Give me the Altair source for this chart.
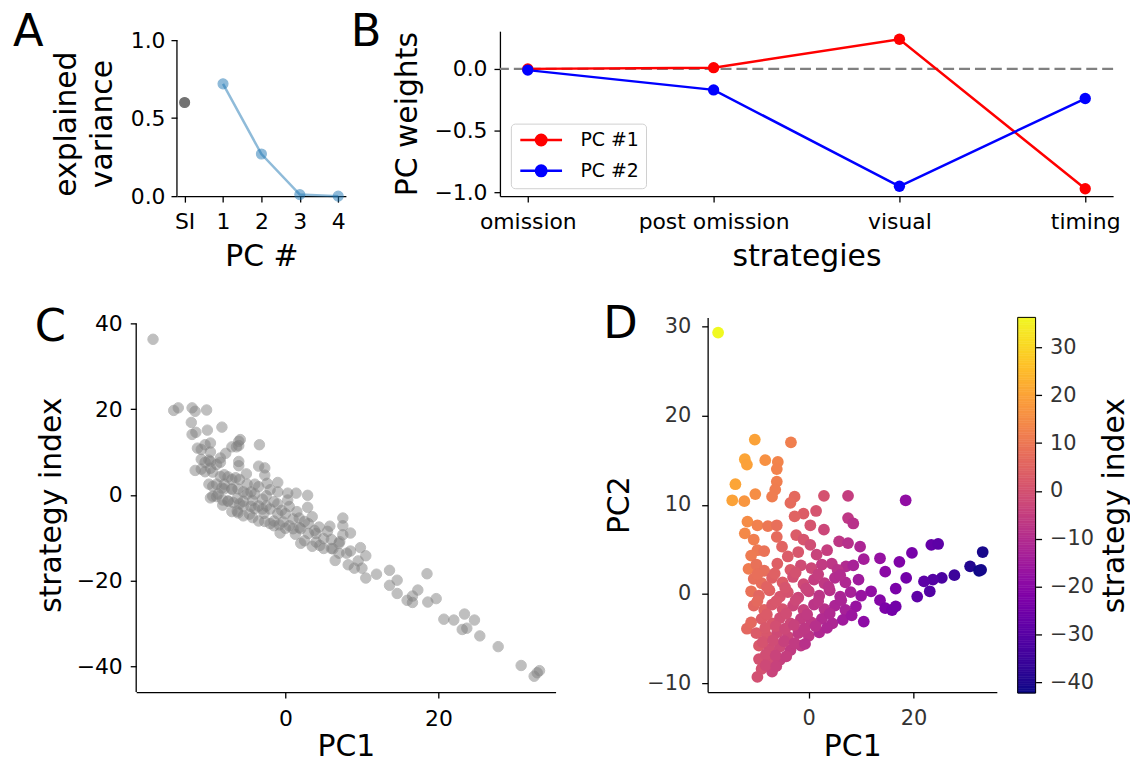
import numpy as np
import pandas as pd
import altair as alt

FONT = "DejaVu Sans"

# ---------------- Panel A ----------------
a_labels = ["SI", "1", "2", "3", "4"]
a_si_value = [0.60]
a_pc_values = [0.72, 0.27, 0.01, 0.00]

# ---------------- Panel B ----------------
b_strategies = ["omission", "post omission", "visual", "timing"]
b_pc1_weights = [0.00, 0.01, 0.24, -0.97]
b_pc2_weights = [-0.01, -0.17, -0.95, -0.24]
b_series = ["PC #1", "PC #2"]

# ---------------- Panels C & D (same sessions) ----------------
pc1 = [
    -17.3, -10.3, -3.4, -12.2, -11.8, -8.3, -5.9, -6.1, -14.0, -14.6,
    -12.3, -10.2, -6.1, -6.4, -7.0, -2.7, -3.5, 2.9, 7.5, 18.5,
    -1.0, 1.4, 0.3, 2.9, 7.5, 8.5, -2.7, -11.7, -9.8, -12.2,
    -7.8, -6.1, -10.5, -9.8, -6.1, -5.1, -2.4, -1.0, 0.3, 5.8,
    7.5, 9.8, 4.4, 7.1, 10.5, 13.6, 17.3, 19.7, 23.4, 24.7,
    33.2, 30.8, 32.5, 32.9, 27.8, 25.4, 23.7, 22.0, 23.1, 20.7,
    18.6, 16.6, 14.6, 11.9, 13.6, 14.6, 15.9, 16.6, 10.5, -11.8,
    -11.0, -8.5, -4.0, -2.0, 1.5, 3.5,
    -11.5, -10.0, -8.5, -6.0, -3.5, -1.5, 0.5, 2.5, 5.5, 8.5,
    -10.5, -9.0, -7.0, -5.0, -3.0, -1.0, 1.0, 3.0, 5.0, 7.0, 9.5,
    -11.0, -9.5, -7.5, -5.5, -4.0, -2.0, 0.0, 2.0, 4.0, 6.0, 8.0, 10.0,
    -10.5, -8.5, -7.0, -5.0, -3.0, -1.0, 1.0, 3.0, 5.0, 7.0, 9.0,
    -11.0, -9.0, -7.0, -5.5, -3.5, -1.5, 0.5, 2.5, 4.5, 6.5,
    -10.0, -8.0, -6.0, -4.0, -2.0, 0.0, 2.0,
    -9.5, -7.5, -5.5, -3.5, -1.5,
    -9.5, -7.5, -5.5,
    -9.0, -7.0,
    -9.8,
    -9.8, -8.0, -6.5, -4.5, -2.5, -0.5, 1.8, 3.8, 6.0,
    -9.8, -8.0, -6.2, -4.3, -2.5, -0.3, 1.8, 4.0, 6.2, 8.2,
    -8.3, -6.3, -4.5, -2.8, -0.8, 1.3, 3.5,
    -8.8, -6.8, -4.7, -2.7, -0.7,
    -8.2, -6.3, -4.3,
    -8.2, -6.2,
]
pc2 = [
    29.3, 17.3, 17.0, 15.1, 14.5, 15.0, 14.8, 14.0, 12.3, 10.5,
    10.4, 11.2, 12.6, 11.7, 10.9, 10.9, 10.2, 11.0, 11.0, 10.5,
    9.0, 9.3, 7.7, 7.2, 8.5, 7.9, 8.7, 8.1, 7.7, 6.8,
    7.6, 7.7, 6.1, 4.9, 6.4, 5.3, 6.6, 6.1, 5.5, 5.9,
    5.7, 5.3, 3.4, 3.1, 3.9, 4.0, 3.6, 4.6, 5.5, 5.6,
    4.7, 3.1, 2.6, 2.7, 2.1, 1.8, 1.6, 1.4, 0.3, -0.3,
    1.8, 0.6, 2.5, 0.3, -0.7, -1.6, -1.8, -1.4, -3.1, -3.9,
    4.3, 4.8, 4.2, 4.7, 4.4, 4.9,
    2.8, 3.3, 2.6, 3.4, 2.7, 3.2, 2.9, 3.3, 2.7, 3.2,
    1.7, 1.2, 1.8, 1.3, 1.9, 1.1, 1.6, 1.2, 1.8, 1.3, 1.6,
    0.3, -0.2, 0.4, -0.3, 0.2, -0.4, 0.3, -0.2, 0.4, -0.3, 0.2, -0.2,
    -1.3, -1.8, -1.2, -1.7, -1.3, -1.8, -1.2, -1.7, -1.3, -1.8, -1.4,
    -3.2, -2.8, -3.3, -2.7, -3.3, -2.8, -3.2, -2.8, -3.3, -2.9,
    -4.4, -4.7, -4.3, -4.8, -4.4, -4.7, -4.3,
    -5.8, -6.2, -5.9, -6.3, -5.8,
    -7.3, -7.7, -7.4,
    -8.4, -8.7,
    -9.3,
    2.2, 0.8, 2.3, 0.7, 2.4, 0.6, 2.2, 0.8, 2.1,
    -0.8, -2.3, -0.8, -2.2, -0.7, -2.3, -0.8, -2.2, -0.7, -2.4,
    -3.8, -3.6, -3.9, -3.5, -3.9, -3.6, -3.8,
    -5.4, -5.2, -5.3, -5.5, -5.6,
    -6.8, -6.9, -7.0,
    -8.0, -8.1,
]
strategy_index = [
    36.3, 19.8, 11.7, 20.3, 19.5, 15.8, 12.9, 12.5, 20.3, 19.7,
    16.9, 15.1, 11.5, 11.2, 11.2, 6.3, 6.7, -0.1, -5.4, -18.4,
    2.9, 0.4, 0.4, -2.9, -7.2, -8.9, 4.6, 14.6, 12.1, 14.1,
    9.7, 7.8, 11.7, 10.0, 6.8, 4.9, 2.7, 0.7, -1.2, -7.3,
    -9.3, -12.3, -7.5, -10.9, -14.2, -17.6, -22.2, -24.2, -27.8, -29.2,
    -41.0, -39.8, -42.3, -41.5, -35.4, -32.9, -31.1, -29.2, -31.4, -29.0,
    -25.0, -23.6, -19.9, -18.5, -21.1, -23.0, -24.6, -25.1, -19.4, 5.7,
    10.6, 8.6, 2.5, 1.2, -3.9, -5.1,
    10.9, 8.1, 7.6, 3.6, 1.9, -1.6, -2.7, -6.2, -8.5, -13.1,
    7.6, 7.1, 3.6, 2.5, -1.0, -2.1, -5.6, -6.7, -10.2, -11.3, -15.4,
    8.3, 5.3, 4.2, 0.7, 0.2, -3.3, -4.4, -7.9, -9.0, -12.5, -13.6, -17.1,
    5.4, 4.3, 1.3, 0.2, -3.3, -4.4, -7.9, -9.0, -12.5, -13.6, -17.1,
    6.0, 2.5, 1.4, -1.5, -2.6, -6.1, -7.2, -10.7, -11.8, -15.3,
    2.5, 1.4, -2.1, -3.2, -6.7, -7.8, -11.3,
    2.0, -1.5, -2.6, -6.1, -7.2,
    -0.3, -1.4, -4.9,
    -0.4, -3.9,
    -0.7,
    7.8, 4.7, 4.0, 0.7, -0.2, -3.6, -5.4, -8.3, -10.4,
    6.2, 2.5, 1.4, -1.3, -2.6, -6.3, -7.6, -11.0, -12.6, -16.3,
    1.6, -0.8, -2.7, -4.3, -7.0, -9.2, -12.0,
    0.2, -1.8, -4.5, -6.2, -8.9,
    -1.2, -3.8, -5.3,
    -2.4, -4.2,
]

si_domain = [-42.3, 36.3]
cb_ticks = [-40, -30, -20, -10, 0, 10, 20, 30]

IND = dict(color="independent", fill="independent", stroke="independent")


def letter(text, dx, dy):
    return alt.TitleParams(text=text, anchor="start", frame="group", orient="top",
                           fontSize=45, fontWeight="normal", font=FONT, color="black",
                           baseline="alphabetic", offset=0, dx=dx, dy=dy)


def spacer(w, h):
    return alt.Chart(pd.DataFrame({"s": [0]})).mark_rect(opacity=0).encode(
        x=alt.value(0), x2=alt.value(w), y=alt.value(0), y2=alt.value(h)
    ).properties(width=w, height=h)


# ---------------- A ----------------
df_a = pd.DataFrame({
    "pc": a_labels,
    "value": a_si_value + a_pc_values,
    "kind": ["SI"] + ["PC"] * len(a_pc_values),
})
a_x = alt.X("pc:N", sort=a_labels, scale=alt.Scale(type="point", padding=0.2),
            axis=alt.Axis(title="PC #", labelAngle=0, labelPadding=10, titlePadding=9))
a_y = alt.Y("value:Q", scale=alt.Scale(domain=[0, 1.0573], nice=False, zero=False),
            axis=alt.Axis(values=[0, 0.5, 1.0], format=".1f", domain=False, labelPadding=6,
                          title=["explained", "variance"], titlePadding=13, titleLineHeight=36,
                          titleY=93))
a_line = alt.Chart(df_a).transform_filter("datum.kind == 'PC'").mark_line(
    color="#1f77b4", opacity=0.5, strokeWidth=2.5).encode(x=a_x, y=a_y)
a_pts_pc = alt.Chart(df_a).transform_filter("datum.kind == 'PC'").mark_circle(
    size=100, color="#1f77b4", opacity=0.5, stroke="#1f77b4", strokeWidth=1.2).encode(x=a_x, y=a_y)
a_pts_si = alt.Chart(df_a).transform_filter("datum.kind == 'SI'").mark_circle(
    size=100, color="#000000", opacity=0.55, stroke="#000000", strokeWidth=1.2).encode(x=a_x, y=a_y)
a_spine = alt.Chart(pd.DataFrame({"k": [0]})).mark_rule(color="black", strokeWidth=1.3).encode(
    x=alt.value(0), y=alt.datum(0), y2=alt.datum(1.0))
chart_a = alt.layer(a_line, a_pts_pc, a_pts_si, a_spine).properties(
    width=170, height=166, title=letter("A", -165, 62))

# ---------------- B ----------------
df_b = pd.DataFrame({
    "strategy": b_strategies * 2,
    "weight": b_pc1_weights + b_pc2_weights,
    "pc": [b_series[0]] * len(b_strategies) + [b_series[1]] * len(b_strategies),
})
b_x = alt.X("strategy:N", sort=b_strategies, scale=alt.Scale(type="point", padding=0.15),
            axis=alt.Axis(title="strategies", labelAngle=0, labelPadding=10, titlePadding=9))
b_y = alt.Y("weight:Q", scale=alt.Scale(domain=[-1.03, 0.305], nice=False, zero=False),
            axis=alt.Axis(values=[-1.0, -0.5, 0.0], format=".1f", title="PC weights",
                          labelPadding=7, titlePadding=12))
pc_scale = alt.Scale(domain=b_series, range=["#ff0000", "#0000ff"])
legend_path = ("M-3,0H3"
               "M-0.75,0A0.75,0.75 0 1,0 0.75,0A0.75,0.75 0 1,0 -0.75,0"
               "M-0.45,0A0.45,0.45 0 1,0 0.45,0A0.45,0.45 0 1,0 -0.45,0"
               "M-0.15,0A0.15,0.15 0 1,0 0.15,0A0.15,0.15 0 1,0 -0.15,0")
b_legend = alt.Legend(title=None, orient="none", legendX=11, legendY=93,
                      symbolType=legend_path, symbolSize=196, symbolStrokeWidth=2.6,
                      symbolOffset=14, labelOffset=30, labelFontSize=19, labelFont=FONT,
                      labelColor="black", padding=7, fillColor="white", strokeColor="#d0d0d0",
                      cornerRadius=4, rowPadding=10)
b_zero = alt.Chart(pd.DataFrame({"k": [0]})).mark_rule(
    color="gray", strokeWidth=2.5, strokeDash=[11, 5]).encode(y=alt.datum(0))
b_lines = alt.Chart(df_b).mark_line(strokeWidth=2.5).encode(
    x=b_x, y=b_y, stroke=alt.Stroke("pc:N", scale=pc_scale, legend=b_legend))
b_pts = alt.Chart(df_b).mark_circle(size=130, opacity=1).encode(
    x=b_x, y=b_y, fill=alt.Fill("pc:N", scale=pc_scale, legend=None))
chart_b = alt.layer(b_zero, b_lines, b_pts).properties(
    width=617, height=166, title=letter("B", -150, 60))

# ---------------- C ----------------
df_pts = pd.DataFrame({"pc1": pc1, "pc2": pc2, "si": strategy_index})
c_pts = alt.Chart(df_pts).mark_circle(size=110, color="gray", opacity=0.5,
                                      stroke="gray", strokeWidth=1).encode(
    x=alt.X("pc1:Q", scale=alt.Scale(domain=[-19.5, 35.3], nice=False, zero=False),
            axis=alt.Axis(values=[0, 20], title="PC1", labelPadding=11, titlePadding=2)),
    y=alt.Y("si:Q", scale=alt.Scale(domain=[-46, 41.4], nice=False, zero=False),
            axis=alt.Axis(values=[-40, -20, 0, 20, 40], title="strategy index", domain=False,
                          labelPadding=8, titlePadding=10)),
)
c_spine = alt.Chart(pd.DataFrame({"k": [0]})).mark_rule(color="black", strokeWidth=1.3).encode(
    x=alt.value(0), y=alt.datum(-46), y2=alt.datum(40))
chart_c = alt.layer(c_pts, c_spine).properties(width=422, height=377, title=letter("C", -102, 74))

# ---------------- D ----------------
plasma = alt.Scale(scheme="plasma", domain=si_domain, nice=False, zero=False)
chart_d = alt.Chart(df_pts).mark_circle(size=140, opacity=1).encode(
    x=alt.X("pc1:Q", scale=alt.Scale(domain=[-19.3, 35.9], nice=False, zero=False),
            axis=alt.Axis(values=[0, 20], title="PC1", labelPadding=10, titlePadding=3,
                          labelColor="#333333", labelFontSize=21)),
    y=alt.Y("pc2:Q", scale=alt.Scale(domain=[-11, 31], nice=False, zero=False),
            axis=alt.Axis(values=[-10, 0, 10, 20, 30], title="PC2", labelPadding=11,
                          titlePadding=12, labelColor="#333333", labelFontSize=21)),
    color=alt.Color("si:Q", scale=plasma, legend=None),
).properties(width=291, height=377, title=letter("D", -105, 68))

# ---------------- colour bar ----------------
cb_levels = np.linspace(si_domain[0], si_domain[1], 158)
cb_df = pd.DataFrame({"lo": cb_levels[:-1], "hi": cb_levels[1:]})
cb_rects = alt.Chart(cb_df).mark_rect(strokeWidth=0.6).encode(
    y=alt.Y("lo:Q", scale=alt.Scale(domain=si_domain, nice=False, zero=False),
            axis=alt.Axis(orient="right", values=cb_ticks, title="strategy index", titleAngle=270,
                          titleBaseline="top", labelFontSize=21, labelPadding=8, titlePadding=6,
                          domain=False, labelColor="#333333")),
    y2="hi:Q",
    color=alt.Color("lo:Q", scale=plasma, legend=None),
    stroke=alt.Stroke("lo:Q", scale=plasma, legend=None),
)
cb_border = alt.Chart(pd.DataFrame({"k": [0]})).mark_rect(
    fill="transparent", stroke="black", strokeWidth=1).encode(
    y=alt.datum(si_domain[0]), y2=alt.datum(si_domain[1]))
chart_cb = alt.layer(cb_rects, cb_border).properties(width=18, height=378)

inner_ab = alt.hconcat(chart_a, chart_b, spacing=3).resolve_scale(**IND)
row0 = alt.hconcat(spacer(1, 1), inner_ab, spacing=1).resolve_scale(**IND)
dcb = alt.hconcat(chart_d, chart_cb, spacing=19).resolve_scale(**IND)
cdcb = alt.hconcat(chart_c, dcb, spacing=46).resolve_scale(**IND)
row1 = alt.hconcat(spacer(1, 1), cdcb, spacing=23).resolve_scale(**IND)

chart = alt.vconcat(row0, row1, spacing=29).resolve_scale(**IND).properties(
    padding={"left": 0, "top": -1, "right": 0, "bottom": -8},
).configure(font=FONT).configure_view(stroke="transparent").configure_axis(
    domainColor="black", tickColor="black", labelColor="black", titleColor="black",
    domainWidth=1.3, tickWidth=1.3, tickSize=6, labelFontSize=22, titleFontSize=30,
    titleFontWeight="normal", labelFont=FONT, titleFont=FONT, grid=False, labelFlush=False,
)

chart.save("out.html", embed_options={"renderer": "svg", "actions": False})
